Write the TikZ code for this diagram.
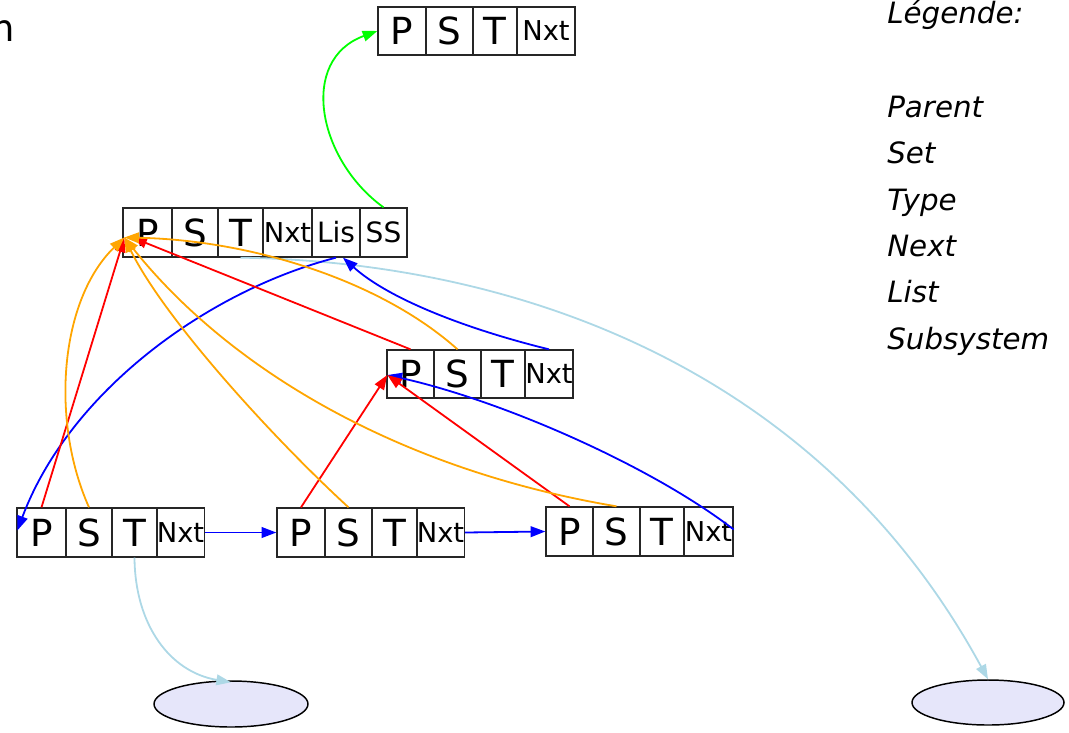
\documentclass[tikz,border=0pt]{standalone}
\usepackage{fontspec}
\setmainfont{DejaVu Sans}
\usetikzlibrary{arrows.meta,shapes.geometric,calc}
\definecolor{gvorange}{HTML}{FFA500}
\definecolor{gvgreen}{HTML}{00FF00}
\definecolor{gvlblue}{HTML}{ADD8E6}
\definecolor{gvlav}{HTML}{E6E6FA}
\tikzset{
  cell/.style={draw=black!85, line width=1pt, inner sep=0pt, font=\fontsize{28}{30}\selectfont},
  ncell/.style={cell, font=\fontsize{20.5}{22}\selectfont},
  wcell/.style={cell, font=\fontsize{21}{23}\selectfont},
  blob/.style={draw=black, line width=1.1pt, ellipse, fill=gvlav, inner sep=0pt},
  edge/.style={line width=1.35pt, -{Triangle[length=11pt,width=8pt]}},
  legend/.style={anchor=base west, inner sep=0pt, font=\fontsize{22}{24}\selectfont\itshape}
}
\begin{document}
\begin{tikzpicture}[x=0.75pt,y=-0.75pt]
\useasboundingbox (0,0) rectangle (1069,732);
% truncated label at top-left
\node[anchor=base east, inner sep=0pt, font=\fontsize{28}{30}\selectfont] (trunc) at (15,41) {m};
% legend
\node[legend] (lg0) at (887,23) {Légende:};
\node[legend] (lg1) at (887,117) {Parent};
\node[legend] (lg2) at (887,163) {Set};
\node[legend] (lg3) at (887,210) {Type};
\node[legend] (lg4) at (887,256) {Next};
\node[legend] (lg5) at (887,302) {List};
\node[legend] (lg6) at (887,349) {Subsystem};
% top record
\node[cell, minimum width=36pt, minimum height=36pt] (tp) at (402,31) {P};
\node[cell, minimum width=35.25pt, minimum height=36pt] (ts) at (449.5,31) {S};
\node[cell, minimum width=33pt, minimum height=36pt] (tt) at (495,31) {T};
\node[ncell, minimum width=43.5pt, minimum height=36pt] (tn) at (546,31) {Nxt};
% big record
\node[cell, minimum width=36.75pt, minimum height=36.75pt] (bp) at (147.5,232.5) {P};
\node[cell, minimum width=34.5pt, minimum height=36.75pt] (bs) at (195,232.5) {S};
\node[cell, minimum width=33.75pt, minimum height=36.75pt] (bt) at (240.5,232.5) {T};
\node[ncell, minimum width=36.75pt, minimum height=36.75pt] (bn) at (287.5,232.5) {Nxt};
\node[wcell, minimum width=36pt, minimum height=36.75pt] (bli) at (336,232.5) {Lis};
\node[wcell, minimum width=35.25pt, minimum height=36.75pt] (bss) at (383.5,232.5) {SS};
% middle record
\node[cell, minimum width=35.25pt, minimum height=36pt] (mp) at (410.5,374) {P};
\node[cell, minimum width=35.25pt, minimum height=36pt] (ms) at (457.5,374) {S};
\node[cell, minimum width=33pt, minimum height=36pt] (mt) at (503,374) {T};
\node[ncell, minimum width=36pt, minimum height=36pt] (mn) at (549,374) {Nxt};
% bottom-left record
\node[cell, minimum width=36.75pt, minimum height=36.75pt] (l1p) at (41.5,532.5) {P};
\node[cell, minimum width=34.5pt, minimum height=36.75pt] (l1s) at (89,532.5) {S};
\node[cell, minimum width=33.75pt, minimum height=36.75pt] (l1t) at (134.5,532.5) {T};
\node[ncell, minimum width=35.25pt, minimum height=36.75pt] (l1n) at (180.5,532.5) {Nxt};
% bottom-middle record
\node[cell, minimum width=36pt, minimum height=36.75pt] (l2p) at (301,532.5) {P};
\node[cell, minimum width=35.25pt, minimum height=36.75pt] (l2s) at (348.5,532.5) {S};
\node[cell, minimum width=33.75pt, minimum height=36.75pt] (l2t) at (394.5,532.5) {T};
\node[ncell, minimum width=35.25pt, minimum height=36.75pt] (l2n) at (440.5,532.5) {Nxt};
% bottom-right record
\node[cell, minimum width=35.25pt, minimum height=36.75pt] (l3p) at (569.5,531.5) {P};
\node[cell, minimum width=35.25pt, minimum height=36.75pt] (l3s) at (616.5,531.5) {S};
\node[cell, minimum width=33pt, minimum height=36.75pt] (l3t) at (662,531.5) {T};
\node[ncell, minimum width=36.75pt, minimum height=36.75pt] (l3n) at (708.5,531.5) {Nxt};
% ellipses
\node[blob, minimum width=115.5pt, minimum height=34.5pt] (ell1) at (231,704) {};
\node[blob, minimum width=114pt, minimum height=33.75pt] (ell2) at (988,702.5) {};
% target points
\coordinate (bpin) at ($(bp.west)+(2,5)$);
\coordinate (mpin) at ($(mp.west)+(1,1)$);
\coordinate (liin) at ($(bli.south)+(7,0)$);
% edges
\draw[edge, gvgreen] (bss.north) .. controls (318,160) and (298,60) .. (tp.west);
\draw[edge, gvlblue] (bt.south) .. controls (520,262) and (820,370) .. (ell2.north);
\draw[edge, gvlblue] (l1t.south) .. controls (135,625) and (170,672) .. ($(ell1.north)+(0,2)$);
\draw[edge, blue] (l1n.east) -- (l2p.west);
\draw[edge, blue] (l2n.east) -- (l3p.west);
\draw[edge, blue] ($(l3n.east)+(0,-2)$) .. controls (650,465) and (500,400) .. (mpin);
\draw[edge, blue] (mn.north) .. controls (470,330) and (390,300) .. (liin);
\draw[edge, blue] (bli.south) .. controls (210,290) and (70,390) .. ($(l1p.west)+(1,-2)$);
\draw[edge, red] (l1p.north) -- (bpin);
\draw[edge, red] (l2p.north) -- (mpin);
\draw[edge, red] (l3p.north) -- (mpin);
\draw[edge, red] (mp.north) -- ($(bpin)+(8,0)$);
\draw[edge, gvorange] (l1s.north) .. controls (50,420) and (60,300) .. (bpin);
\draw[edge, gvorange] (l2s.north) .. controls (275,440) and (165,320) .. (bpin);
\draw[edge, gvorange] (l3s.north) .. controls (400,470) and (230,370) .. (bpin);
\draw[edge, gvorange] (ms.north) .. controls (380,280) and (250,240) .. (bpin);
\end{tikzpicture}
\end{document}
